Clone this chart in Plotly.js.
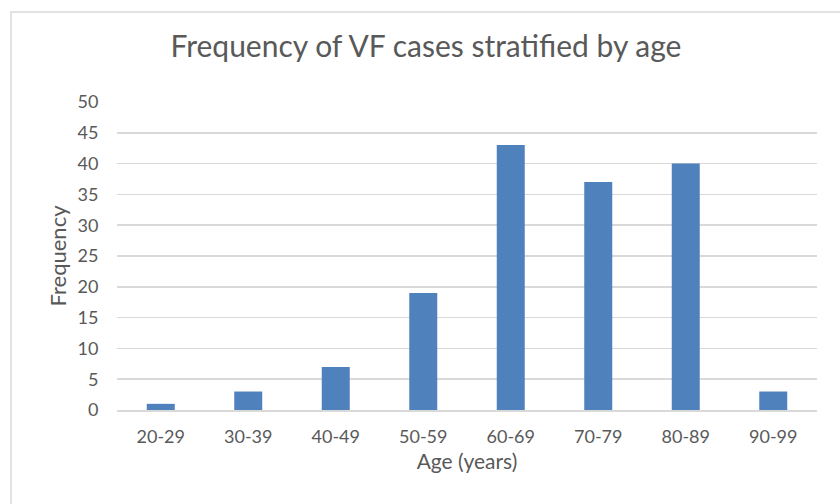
<!DOCTYPE html>
<html>
<head>
<meta charset="utf-8">
<script src="https://cdn.plot.ly/plotly-3.0.1.min.js"></script>
<style>html,body{margin:0;padding:0;background:#fff;}#chart{width:840px;height:504px;}</style>
</head>
<body>
<div id="chart"></div>
<script>
const categories = ["20-29","30-39","40-49","50-59","60-69","70-79","80-89","90-99"];
const frequency = [1, 3, 7, 19, 43, 37, 40, 3];
const yTicks = [0,5,10,15,20,25,30,35,40,45,50];

const FONT = "Lato, 'Open Sans', sans-serif";
const TXT = "#595959";

const data = [{
  type: "bar",
  x: categories,
  y: frequency,
  marker: {color: "#4f81bd"},
  hoverinfo: "x+y"
}];

const layout = {
  width: 840, height: 504,
  margin: {l: 117, r: 23, t: 102, b: 94},
  paper_bgcolor: "#ffffff",
  plot_bgcolor: "#ffffff",
  bargap: 0.68,
  showlegend: false,
  font: {family: FONT, color: TXT},
  title: {
    text: "Frequency of VF cases stratified by age",
    font: {family: FONT, size: 30, color: TXT},
    x: 426/840, xref: "container", xanchor: "center",
    y: 1 - 46/504, yref: "container", yanchor: "middle"
  },
  xaxis: {
    type: "category",
    tickfont: {family: FONT, size: 18, color: TXT},
    showgrid: false,
    showline: true, linecolor: "#d9d9d9", linewidth: 1.5,
    ticks: "outside", ticklen: 10, tickcolor: "rgba(0,0,0,0)",
    title: {text: "Age (years)", font: {family: FONT, size: 21, color: TXT}, standoff: 8},
    automargin: false
  },
  yaxis: {
    range: [0, 50],
    tickvals: yTicks,
    ticktext: yTicks.map(String),
    tickfont: {family: FONT, size: 18, color: TXT},
    showgrid: true, gridcolor: "#d9d9d9", gridwidth: 1.5,
    zeroline: false,
    showline: false,
    ticks: "outside", ticklen: 14, tickcolor: "rgba(0,0,0,0)",
    title: {text: "Frequency", font: {family: FONT, size: 22, color: TXT}, standoff: 4},
    automargin: false
  },
  shapes: [{
    type: "rect", xref: "paper", yref: "paper",
    x0: (11 - 117) / 700, x1: (860 - 117) / 700,
    y0: (410 - 520) / 308, y1: (410 - 12) / 308,
    line: {color: "#d9d9d9", width: 1.5}, fillcolor: "rgba(0,0,0,0)", layer: "below"
  }]
};

Plotly.newPlot("chart", data, layout, {displayModeBar: false, staticPlot: true});
</script>
</body>
</html>
